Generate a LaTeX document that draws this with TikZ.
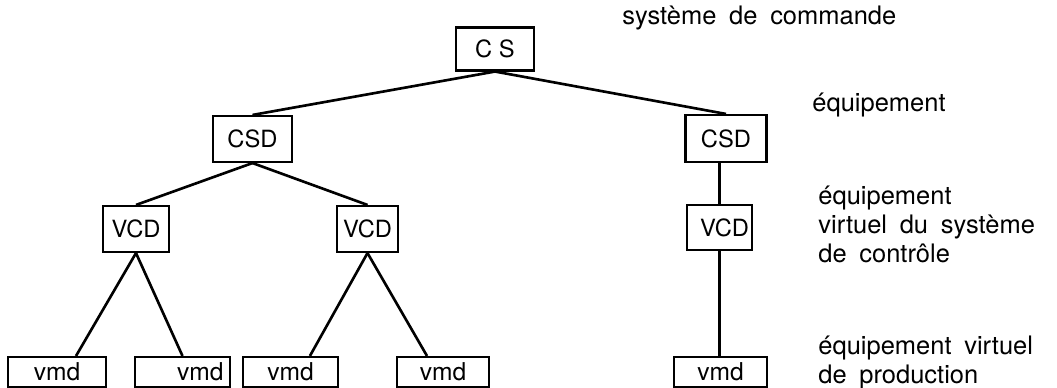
\documentclass[tikz,border=0pt]{standalone}
\usepackage{fontspec}
\setmainfont{TeX Gyre Heros}
\usepackage{tikz}
\usetikzlibrary{calc}

\newcommand{\capfont}{\fontsize{14.5}{16.5}\selectfont\spaceskip=0.5em\relax}

\begin{document}
\begin{tikzpicture}[
        x=0.02cm, y=-0.02cm,
        box/.style={draw, line width=1.2pt, inner sep=0pt, minimum height=0.92cm,
            font=\fontsize{13.5}{15}\selectfont},
        leaf/.style={box, minimum height=0.6cm, font=\fontsize{14}{15}\selectfont},
        link/.style={line width=1.5pt},
        lbl/.style={inner sep=0pt, align=left, font=\capfont},
    ]
    \useasboundingbox (0,0) rectangle (1057,388);

    % Root
    \node[box, minimum width=1.56cm, minimum height=0.86cm] (CS) at (495,49) {C S};

    % Level 1 - equipment
    \node[box, minimum width=1.58cm] (CSDl) at (252.5,139) {CSD};
    \node[box, minimum width=1.62cm, minimum height=0.94cm] (CSDr) at (726,138.5) {CSD};

    % Level 2 - virtual control devices
    \node[box, minimum width=1.32cm] (VCDl) at (136,229) {VCD};
    \node[box, minimum width=1.22cm] (VCDm) at (367.5,229) {VCD};
    \node[box, minimum width=1.3cm, minimum height=0.9cm, text width=1.18cm, align=right] (VCDr) at (719.5,227.5) {VCD};

    % Level 3 - vmd leaves
    \node[leaf, minimum width=1.96cm] (vmda) at (57,372) {vmd};
    \node[leaf, minimum width=1.9cm, text width=1.64cm, align=right] (vmdb) at (182.5,372) {vmd};
    \node[leaf, minimum width=1.9cm] (vmdc) at (290.5,372) {vmd};
    \node[leaf, minimum width=1.84cm] (vmdd) at (443,372) {vmd};
    \node[leaf, minimum width=1.86cm] (vmde) at (720.5,372) {vmd};

    % Tree links
    \draw[link] (CS.south) -- (CSDl.north);
    \draw[link] (CS.south) -- (CSDr.north);
    \draw[link] (CSDl.south) -- (VCDl.north);
    \draw[link] (CSDl.south) -- (VCDm.north);
    \draw[link] (VCDr.north) -- (VCDr.north |- CSDr.south);
    \draw[link] (VCDl.south) -- ($(vmda.north west)!0.69!(vmda.north east)$);
    \draw[link] (VCDl.south) -- (vmdb.north);
    \draw[link] (VCDm.south) -- ($(vmdc.north west)!0.7!(vmdc.north east)$);
    \draw[link] (VCDm.south) -- ($(vmdd.north west)!0.33!(vmdd.north east)$);
    \draw[link] (VCDr.south) -- (VCDr.south |- vmde.north);

    % Level captions (right side)
    \node[lbl, anchor=mid west] (tcs) at (622,20) {système de commande};
    \node[lbl, anchor=mid west] (tcsd) at (812,107) {équipement};
    \node[lbl, anchor=west] (tvcd) at (818,224) {équipement\\virtuel du système\\de contrôle};
    \node[lbl, anchor=west] (tvmd) at (818,362) {équipement virtuel\\de production};

\end{tikzpicture}
\end{document}
